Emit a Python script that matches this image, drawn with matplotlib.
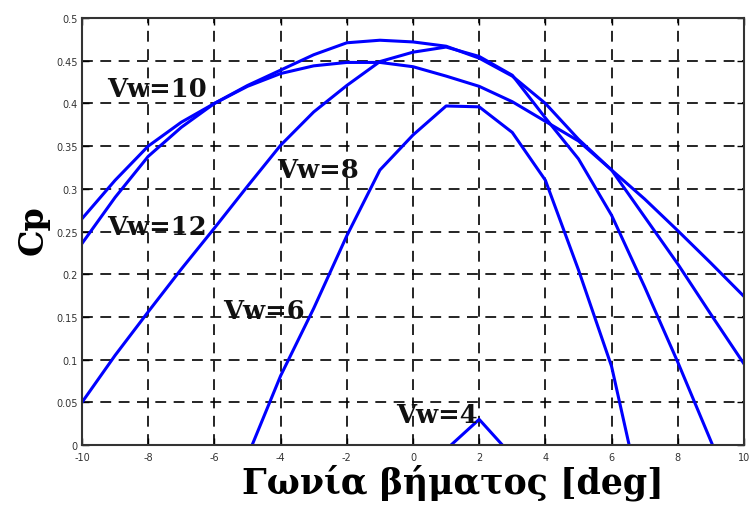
import numpy as np
import matplotlib.pyplot as plt

plt.rcParams['axes.unicode_minus'] = False

# Cp vs pitch angle for different wind speeds
beta_full = [-10, -9, -8, -7, -6, -5, -4, -3, -2, -1, 0, 1, 2, 3, 4, 5, 6, 7, 8, 9, 10]

cp_vw10 = [0.265, 0.310, 0.350, 0.378, 0.400, 0.421, 0.439, 0.457, 0.471, 0.474, 0.472,
           0.467, 0.453, 0.432, 0.400, 0.358, 0.322, 0.267, 0.212, 0.153, 0.095]
cp_vw12 = [0.236, 0.290, 0.338, 0.372, 0.400, 0.420, 0.435, 0.444, 0.448, 0.448, 0.443,
           0.432, 0.420, 0.402, 0.379, 0.356, 0.322, 0.288, 0.251, 0.213, 0.174]

beta_vw8 = [-10, -9, -8, -7, -6, -5, -4, -3, -2, -1, 0, 1, 2, 3, 4, 5, 6, 7, 8, 9.05]
cp_vw8 = [0.050, 0.105, 0.156, 0.206, 0.254, 0.303, 0.351, 0.390, 0.421, 0.449, 0.460,
          0.466, 0.455, 0.433, 0.383, 0.335, 0.269, 0.185, 0.097, 0.0]

beta_vw6 = [-4.86, -4, -3, -2, -1, 0, 1, 2, 3, 4, 5, 6, 6.53]
cp_vw6 = [0.0, 0.081, 0.160, 0.245, 0.322, 0.363, 0.397, 0.396, 0.366, 0.310, 0.205, 0.092, 0.0]

beta_vw4 = [1.15, 2.0, 2.7]
cp_vw4 = [0.0, 0.030, 0.0]

labels = ['Vw=10', 'Vw=12', 'Vw=8', 'Vw=6', 'Vw=4']
label_x = [-9.25, -9.25, -4.1, -5.75, -0.5]
label_y = [0.418, 0.256, 0.323, 0.158, 0.036]

fig = plt.figure(figsize=(7.49, 5.10), dpi=100)
ax = fig.add_axes([0.1095, 0.1255, 0.8838, 0.8372])

blue = '#0000ff'
lw = 2.2
ax.plot(beta_full, cp_vw10, color=blue, lw=lw)
ax.plot(beta_full, cp_vw12, color=blue, lw=lw)
ax.plot(beta_vw8, cp_vw8, color=blue, lw=lw)
ax.plot(beta_vw6, cp_vw6, color=blue, lw=lw)
ax.plot(beta_vw4, cp_vw4, color=blue, lw=lw)

for t, xx, yy in zip(labels, label_x, label_y):
    ax.text(xx, yy, t, fontsize=18.5, fontweight='bold', family='DejaVu Serif',
            ha='left', va='center', color='#111111')

ax.set_xlim(-10, 10)
ax.set_ylim(0, 0.5)
ax.set_xticks(np.arange(-10, 11, 2))
ax.set_yticks(np.arange(0, 0.51, 0.05))
ax.set_yticklabels(['0', '0.05', '0.1', '0.15', '0.2', '0.25', '0.3', '0.35',
                    '0.4', '0.45', '0.5'])
ax.grid(True, color='black', linestyle=(0, (6.5, 4.5)), linewidth=1.2)
ax.tick_params(direction='in', length=5, width=1, top=True, right=True,
               labelsize=7, labelcolor='#333333')
ax.tick_params(axis='x', pad=5)
ax.tick_params(axis='y', pad=3)
for s in ax.spines.values():
    s.set_linewidth(1.5)
    s.set_color('#333333')

ax.set_xlabel('Γωνία βήματος [deg]', fontsize=25, fontweight='bold',
              family='DejaVu Serif', labelpad=1)
ax.xaxis.label.set_x(0.56)
ax.set_ylabel('Cp', fontsize=24, fontweight='bold', family='DejaVu Serif',
              labelpad=5)
ax.yaxis.label.set_y(0.505)

fig.savefig('out.png', dpi=100)
